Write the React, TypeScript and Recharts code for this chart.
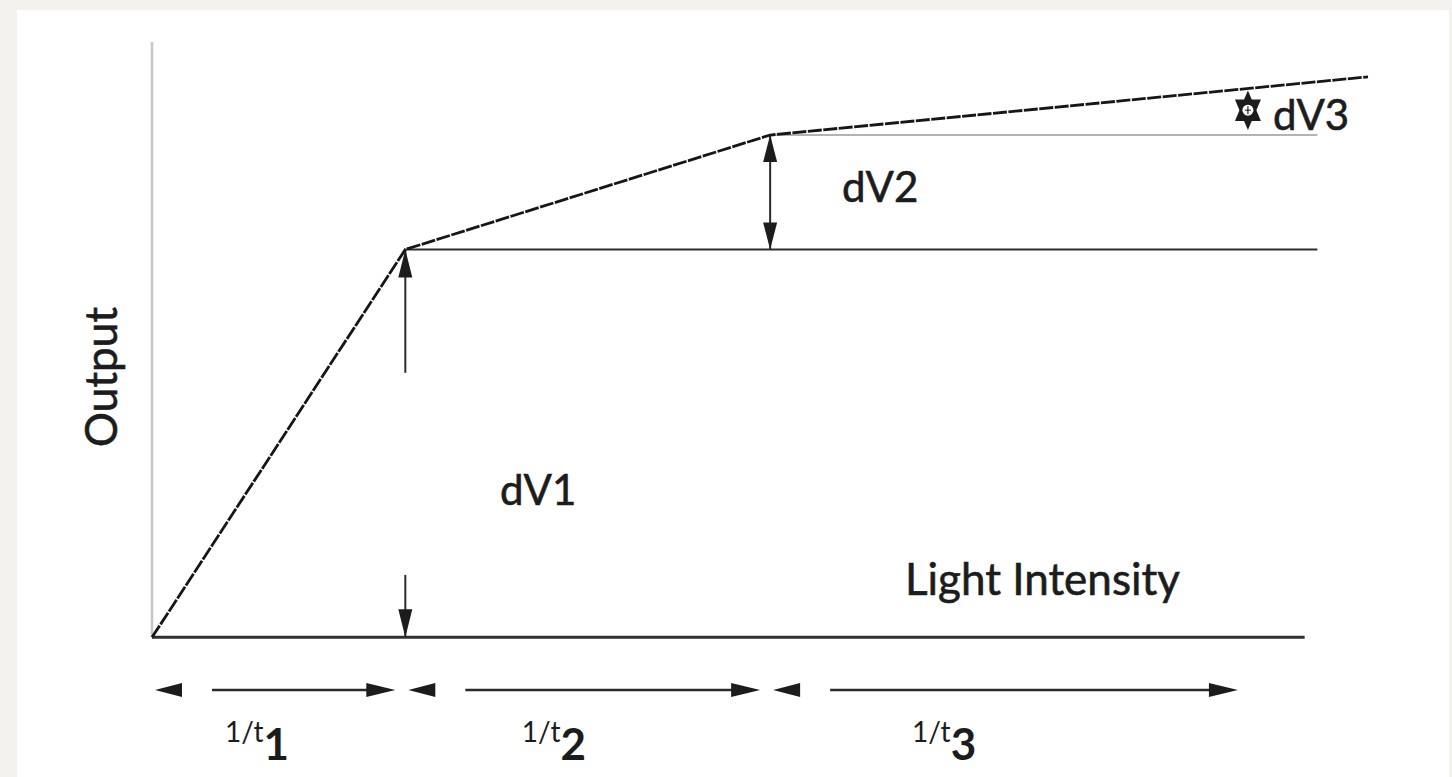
import React from 'react';
import { ComposedChart, Line, XAxis, YAxis, ReferenceLine, ReferenceDot } from 'recharts';

// Piecewise response: light intensity (x) vs output (y)
const intensity = [0, 10, 24.4, 48];
const output = [0, 10, 12.95, 14.45];

// Annotation values (data units)
const axisTop = 15.35;
const baselineEnd = 45.5;
const levelEnd = 46;
const dV1Gap = [1.61, 6.82];
const dV3Span = [13.08, 14.1];
const dV3At = 43.26;
const dVNames = ['dV1', 'dV2', 'dV3'];
const dVLabelX = [13.74, 27.24, 44.25];
const dVLabelY = [3.4, 11.22, 13.08];
const intervalNames = ['1', '2', '3'];
const intervalStart = [0, 10, 24.4];
const intervalEnd = [10, 24.4, 43.26];
const intervalLabelX = [2.88, 14.6, 30.0];
const arrowRowY = -1.356;
const labelRowY = -3.16;
const xTitle = 'Light Intensity';
const xTitleAt = [29.72, 1.09];
const yTitle = 'Output';
const yTitleAt = 6.71;

const curve = intensity.map((x, i) => ({ x, y: output[i] }));

const FONT = 'Lato, "Open Sans", sans-serif';
const INK = '#1c1c1c';

const head = (tx: number, ty: number, ux: number, uy: number, len: number, half: number) => {
  const bx = tx - ux * len;
  const by = ty - uy * len;
  const px = -uy * half;
  const py = ux * half;
  return `${tx},${ty} ${bx + px},${by + py} ${bx - px},${by - py}`;
};

const makeArrow = (opts: { start?: boolean; end?: boolean; len?: number; half?: number; w?: number; color?: string }) =>
  (props: any) => {
    const { x1, y1, x2, y2 } = props;
    const len = opts.len ?? 28;
    const half = opts.half ?? 7;
    const dx = x2 - x1;
    const dy = y2 - y1;
    const L = Math.hypot(dx, dy) || 1;
    const ux = dx / L;
    const uy = dy / L;
    const color = opts.color ?? '#2a2a2a';
    return (
      <g>
        <line x1={x1} y1={y1} x2={x2} y2={y2} stroke={color} strokeWidth={opts.w ?? 2} />
        {opts.end && <polygon points={head(x2, y2, ux, uy, len, half)} fill={INK} />}
        {opts.start && <polygon points={head(x1, y1, -ux, -uy, len, half)} fill={INK} />}
      </g>
    );
  };

const intervalArrow = (props: any) => {
  const { x1, y1, x2 } = props;
  const y = y1;
  const tipL = x1 + 3;
  const lineStart = x1 + 60;
  const tipR = x2 - 10;
  return (
    <g>
      <polygon points={head(tipL, y, -1, 0, 27, 7)} fill={INK} />
      <line x1={lineStart} y1={y} x2={tipR - 20} y2={y} stroke="#2a2a2a" strokeWidth={2.5} />
      <polygon points={head(tipR, y, 1, 0, 29, 7)} fill={INK} />
    </g>
  );
};

const hexArrow = (props: any) => {
  const { x1, y1, y2 } = props;
  const top = Math.min(y1, y2);
  const bot = Math.max(y1, y2);
  const half = 13;
  const mid = (top + bot) / 2;
  return (
    <g>
      <polygon points={`${x1},${top} ${x1 - half},${bot - 9} ${x1 + half},${bot - 9}`} fill={INK} />
      <polygon points={`${x1},${bot} ${x1 - half},${top + 9} ${x1 + half},${top + 9}`} fill={INK} />
      <circle cx={x1} cy={mid} r={5.5} fill="#fff" />
      <line x1={x1} y1={mid - 4} x2={x1} y2={mid + 4} stroke={INK} strokeWidth={1.2} />
      <line x1={x1 - 3} y1={mid} x2={x1 + 3} y2={mid} stroke={INK} strokeWidth={1} />
    </g>
  );
};

const textStyle = { paintOrder: 'stroke' as const };

export default function App() {
  return (
    <div style={{ position: 'absolute', left: 0, top: 0, width: 1452, height: 777, background: '#f3f2ee', overflow: 'hidden' }}>
      <div style={{ position: 'absolute', left: 17, top: 10, width: 1432, height: 767, background: '#ffffff' }} />
      <div style={{ position: 'absolute', left: 0, top: 0 }}>
        <ComposedChart width={1452} height={777} data={curve} margin={{ top: 40, right: 84, bottom: 0, left: 152 }}>
          <XAxis dataKey="x" type="number" domain={[0, 48]} hide />
          <YAxis type="number" domain={[-3.6, 15.4]} hide />

          {/* vertical axis */}
          <ReferenceLine segment={[{ x: 0, y: 0 }, { x: 0, y: axisTop }]} stroke="#c6c6c6" strokeWidth={2.5} />
          {/* baseline */}
          <ReferenceLine segment={[{ x: 0, y: 0 }, { x: baselineEnd, y: 0 }]} stroke="#303030" strokeWidth={3} />
          {/* level lines */}
          <ReferenceLine segment={[{ x: intensity[1], y: output[1] }, { x: levelEnd, y: output[1] }]} stroke="#2e2e2e" strokeWidth={2} />
          <ReferenceLine segment={[{ x: intensity[2], y: output[2] }, { x: levelEnd, y: output[2] }]} stroke="#9a9a9a" strokeWidth={1.6} />

          {/* dV1 arrows */}
          <ReferenceLine segment={[{ x: intensity[1], y: dV1Gap[0] }, { x: intensity[1], y: 0 }]} shape={makeArrow({ end: true, len: 28, half: 7 })} />
          <ReferenceLine segment={[{ x: intensity[1], y: dV1Gap[1] }, { x: intensity[1], y: output[1] }]} shape={makeArrow({ end: true, len: 28, half: 7 })} />
          {/* dV2 arrow */}
          <ReferenceLine segment={[{ x: intensity[2], y: output[1] }, { x: intensity[2], y: output[2] }]} shape={makeArrow({ start: true, end: true, len: 27, half: 7 })} />
          {/* dV3 marker */}
          <ReferenceLine segment={[{ x: dV3At, y: dV3Span[0] }, { x: dV3At, y: dV3Span[1] }]} shape={hexArrow} />

          {/* interval arrows */}
          {intervalNames.map((n, i) => (
            <ReferenceLine
              key={'ia' + n}
              segment={[{ x: intervalStart[i], y: arrowRowY }, { x: intervalEnd[i], y: arrowRowY }]}
              shape={intervalArrow}
            />
          ))}

          <Line
            type="linear"
            dataKey="y"
            stroke="#161616"
            strokeWidth={2.8}
            strokeDasharray="14 1.5"
            dot={false}
            activeDot={false}
            isAnimationActive={false}
          />

          {/* dV labels */}
          {dVNames.map((n, i) => (
            <ReferenceDot
              key={n}
              x={dVLabelX[i]}
              y={dVLabelY[i]}
              r={0}
              shape={(p: any) => (
                <text x={p.cx} y={p.cy} fontFamily={FONT} fontSize={42} fill={INK} stroke={INK} strokeWidth={0.6} style={textStyle}>{n}</text>
              )}
            />
          ))}

          {/* interval labels */}
          {intervalNames.map((n, i) => (
            <ReferenceDot
              key={'il' + n}
              x={intervalLabelX[i]}
              y={labelRowY}
              r={0}
              shape={(p: any) => (
                <text x={p.cx} y={p.cy} fontFamily={FONT} fill={INK}>
                  <tspan fontSize={28} dy={-18}>1/t</tspan>
                  <tspan fontSize={44} fontWeight={700} dy={18}>{n}</tspan>
                </text>
              )}
            />
          ))}

          {/* axis titles */}
          <ReferenceDot
            x={xTitleAt[0]}
            y={xTitleAt[1]}
            r={0}
            shape={(p: any) => (
              <text x={p.cx} y={p.cy} fontFamily={FONT} fontSize={44} fill={INK} stroke={INK} strokeWidth={0.6} style={textStyle}>{xTitle}</text>
            )}
          />
          <ReferenceDot
            x={0}
            y={yTitleAt}
            r={0}
            shape={(p: any) => (
              <text
                x={p.cx - 35}
                y={p.cy}
                fontFamily={FONT}
                fontSize={44}
                fill={INK}
                stroke={INK}
                strokeWidth={0.6}
                style={textStyle}
                textAnchor="middle"
                transform={`rotate(-90 ${p.cx - 35} ${p.cy})`}
              >
                {yTitle}
              </text>
            )}
          />
        </ComposedChart>
      </div>
    </div>
  );
}
